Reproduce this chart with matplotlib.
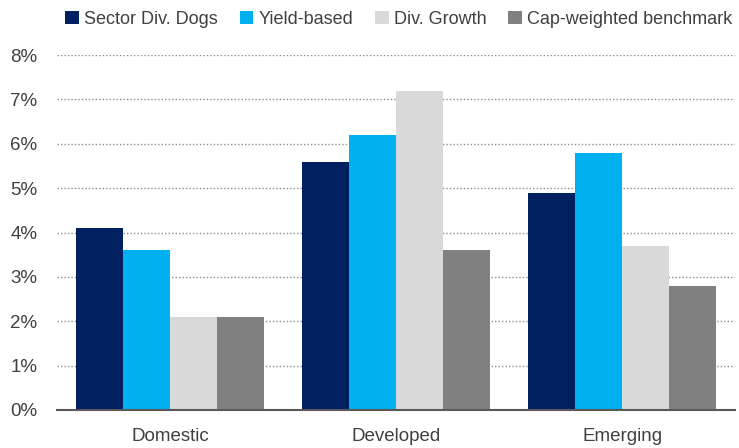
import matplotlib.pyplot as plt
import numpy as np
from matplotlib.ticker import FuncFormatter

regions = ['Domestic', 'Developed', 'Emerging']
series_names = ['Sector Div. Dogs', 'Yield-based', 'Div. Growth', 'Cap-weighted benchmark']
sector_div_dogs = [4.1, 5.6, 4.9]
yield_based = [3.6, 6.2, 5.8]
div_growth = [2.1, 7.2, 3.7]
cap_weighted = [2.1, 3.6, 2.8]
colors = ['#002060', '#00B0F0', '#D9D9D9', '#808080']

plt.rcParams['font.family'] = ['Liberation Sans Narrow', 'Liberation Sans', 'DejaVu Sans']
text_color = '#404040'

fig = plt.figure(figsize=(7.39, 4.48), dpi=100)
ax = fig.add_axes([0.077, 0.085, 0.918, 0.792])

x = np.arange(len(regions))
width = 0.208
all_series = [sector_div_dogs, yield_based, div_growth, cap_weighted]
for i, (vals, name, c) in enumerate(zip(all_series, series_names, colors)):
    ax.bar(x + (i - 1.5) * width, vals, width, color=c, label=name, zorder=3)

ax.set_xlim(-0.5, 2.5)
ax.set_ylim(0, 8)
ax.set_yticks(range(0, 9))
ax.yaxis.set_major_formatter(FuncFormatter(lambda v, p: f'{int(v)}%'))
ax.set_xticks(x)
ax.set_xticklabels(regions)
ax.tick_params(axis='both', length=0, labelsize=13.5, colors=text_color)
ax.tick_params(axis='x', pad=13)
ax.tick_params(axis='y', pad=14)

ax.grid(axis='y', linestyle=(0, (1, 1.5)), color='#8c8c8c', linewidth=1, zorder=0)
for s in ['top', 'right', 'left']:
    ax.spines[s].set_visible(False)
ax.spines['bottom'].set_color('#595959')
ax.spines['bottom'].set_linewidth(1.5)
ax.spines['bottom'].set_zorder(4)

leg = fig.legend(loc='upper center', bbox_to_anchor=(0.54, 1.012), ncol=4, frameon=False,
                 fontsize=13, handlelength=0.75, handleheight=0.75, handletextpad=0.3,
                 columnspacing=1.2, labelcolor=text_color)

fig.savefig('out.png', dpi=100)
